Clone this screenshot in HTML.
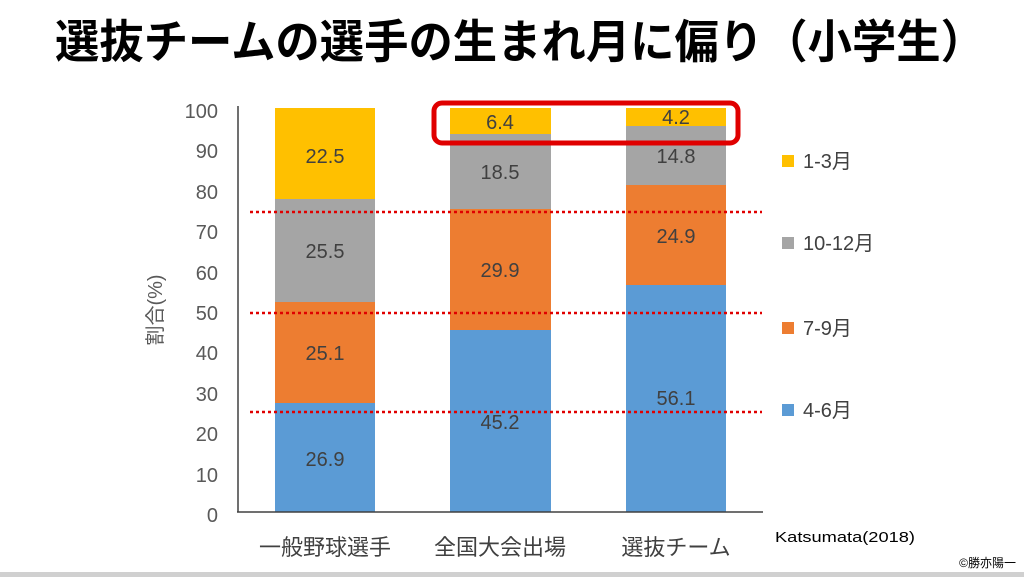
<!DOCTYPE html>
<html><head><meta charset="utf-8"><style>
body{margin:0;width:1024px;height:577px;background:#fff;overflow:hidden;position:relative;font-family:"Liberation Sans","Noto Sans CJK JP",sans-serif}
</style></head><body>
<svg width="1024" height="577" style="position:absolute;left:0;top:0" font-family="Liberation Sans, Noto Sans CJK JP, sans-serif">
<text x="55" y="58" textLength="930" lengthAdjust="spacingAndGlyphs" font-size="46" font-weight="bold" fill="#000">選抜チームの選手の生まれ月に偏り（小学生）</text>
<g font-size="20" fill="#595959" text-anchor="end">
<text x="218" y="118">100</text><text x="218" y="158">90</text><text x="218" y="199">80</text><text x="218" y="239">70</text><text x="218" y="280">60</text><text x="218" y="320">50</text><text x="218" y="360">40</text><text x="218" y="401">30</text><text x="218" y="441">20</text><text x="218" y="482">10</text><text x="218" y="522">0</text>
</g>
<text transform="translate(162,310) rotate(-90)" text-anchor="middle" font-size="20" fill="#595959">割合(%)</text>
<rect x="275" y="108" width="100" height="91" fill="#FFC000"/>
<rect x="275" y="199" width="100" height="103" fill="#A5A5A5"/>
<rect x="275" y="302" width="100" height="101" fill="#ED7D31"/>
<rect x="275" y="403" width="100" height="109" fill="#5B9BD5"/>
<rect x="450" y="108" width="101" height="26" fill="#FFC000"/>
<rect x="450" y="134" width="101" height="75" fill="#A5A5A5"/>
<rect x="450" y="209" width="101" height="121" fill="#ED7D31"/>
<rect x="450" y="330" width="101" height="182" fill="#5B9BD5"/>
<rect x="626" y="108" width="100" height="18" fill="#FFC000"/>
<rect x="626" y="126" width="100" height="59" fill="#A5A5A5"/>
<rect x="626" y="185" width="100" height="100" fill="#ED7D31"/>
<rect x="626" y="285" width="100" height="227" fill="#5B9BD5"/>
<line x1="238" y1="106" x2="238" y2="512" stroke="#404040" stroke-width="1.5"/>
<line x1="237" y1="512" x2="763" y2="512" stroke="#404040" stroke-width="1.5"/>
<g font-size="20" fill="#404040" text-anchor="middle">
<text x="325" y="163">22.5</text><text x="325" y="258">25.5</text><text x="325" y="360">25.1</text><text x="325" y="466">26.9</text>
<text x="500" y="129">6.4</text><text x="500" y="179">18.5</text><text x="500" y="277">29.9</text><text x="500" y="429">45.2</text>
<text x="676" y="124">4.2</text><text x="676" y="163">14.8</text><text x="676" y="243">24.9</text><text x="676" y="405">56.1</text>
</g>
<g stroke="#E00000" stroke-width="2.5" stroke-dasharray="3,3">
<line x1="250" y1="212" x2="762" y2="212"/><line x1="250" y1="313" x2="762" y2="313"/><line x1="250" y1="412" x2="762" y2="412"/>
</g>
<rect x="434" y="103" width="304" height="40" rx="8" fill="none" stroke="#E00000" stroke-width="5"/>
<rect x="782" y="155" width="12" height="12" fill="#FFC000"/>
<rect x="782" y="237" width="12" height="12" fill="#A5A5A5"/>
<rect x="782" y="322" width="12" height="12" fill="#ED7D31"/>
<rect x="782" y="404" width="12" height="12" fill="#5B9BD5"/>
<g font-size="20" fill="#404040">
<text x="803" y="168">1-3月</text><text x="803" y="250">10-12月</text><text x="803" y="335">7-9月</text><text x="803" y="417">4-6月</text>
</g>
<g font-size="22" fill="#404040" text-anchor="middle">
<text x="325" y="555">一般野球選手</text><text x="500" y="555">全国大会出場</text><text x="676" y="555">選抜チーム</text>
</g>
<text x="775" y="542" font-size="15" fill="#000" textLength="140" lengthAdjust="spacingAndGlyphs">Katsumata(2018)</text>
<text x="1016" y="567" font-size="12" fill="#000" text-anchor="end">©勝亦陽一</text>
<rect x="0" y="572" width="1024" height="5" fill="#d0d0d0"/>
</svg>
</body></html>
